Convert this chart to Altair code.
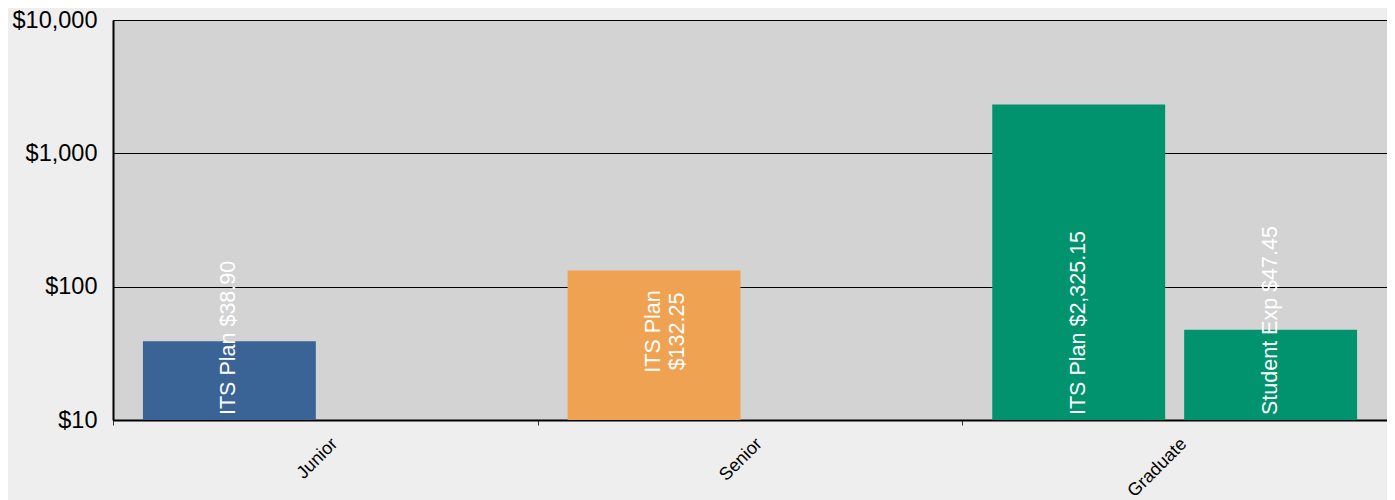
import altair as alt
import pandas as pd

# ---- data ----
categories = ["Junior", "Senior", "Graduate"]
bar_category = ["Junior", "Senior", "Graduate", "Graduate"]
bar_series = ["ITS Plan", "ITS Plan", "ITS Plan", "Student Exp"]
bar_values = [38.90, 132.25, 2325.15, 47.45]
series_order = ["ITS Plan", "Student Exp"]
category_colors = ["#3a6496", "#efa251", "#00936e"]
y_ticks = [10, 100, 1000, 10000]
title_text = "Yearly Expenses"

labels = []
for c, s, v in zip(bar_category, bar_series, bar_values):
    if c == "Senior":
        labels.append(f"{s}\n${v:,.2f}")
    else:
        labels.append(f"{s} ${v:,.2f}")

df = pd.DataFrame({
    "category": bar_category,
    "series": bar_series,
    "value": bar_values,
    "label": labels,
})

FONT = "Liberation Sans"

x_enc = alt.X(
    "category:N",
    sort=categories,
    scale=alt.Scale(paddingInner=0, paddingOuter=0),
    axis=alt.Axis(
        title=None,
        labelAngle=-45,
        labelAlign="right",
        labelBaseline="middle",
        labelFontSize=18,
        labelFont=FONT,
        labelColor="black",
        labelPadding=16,
        labelOffset=9,
        tickBand="extent",
        tickColor="#333333",
        tickSize=5,
        domainColor="black",
        domainWidth=2,
        grid=False,
    ),
)
xoff_enc = alt.XOffset(
    "series:N",
    sort=series_order,
    scale=alt.Scale(domain=series_order, paddingInner=0.099, paddingOuter=0.156),
)
y_scale = alt.Scale(type="log", domain=[10, 10000], nice=False)

base = alt.Chart(df)

bars = base.mark_bar().encode(
    x=x_enc,
    xOffset=xoff_enc,
    y=alt.Y(
        "value:Q",
        scale=y_scale,
        axis=alt.Axis(
            values=y_ticks,
            format="$,.0f",
            title=None,
            labelFontSize=23.5,
            labelFont=FONT,
            labelColor="black",
            labelPadding=16,
            ticks=False,
            grid=True,
            gridColor="black",
            gridWidth=1,
            gridOpacity=1,
            domainColor="black",
            domainWidth=2,
        ),
    ),
    y2=alt.datum(10),
    color=alt.Color(
        "category:N",
        scale=alt.Scale(domain=categories, range=category_colors),
        legend=None,
    ),
)

text_bottom = base.transform_filter(alt.datum.category != "Senior").mark_text(
    angle=270, align="left", baseline="middle", dx=5,
    fontSize=21.5, font=FONT, color="white",
).encode(
    x=alt.X("category:N", sort=categories),
    xOffset=alt.XOffset("series:N", sort=series_order),
    y=alt.datum(10),
    text="label:N",
)

text_mid = base.transform_filter(alt.datum.category == "Senior").mark_text(
    angle=270, align="center", baseline="middle", dx=-61,
    fontSize=21.5, font=FONT, color="white", lineBreak="\n", lineHeight=24,
).encode(
    x=alt.X("category:N", sort=categories),
    xOffset=alt.XOffset("series:N", sort=series_order),
    y=alt.Y("value:Q", scale=y_scale),
    text="label:N",
)

chart = alt.layer(bars, text_bottom, text_mid).properties(
    width=1274,
    height=400,
    title=alt.Title(
        title_text,
        fontSize=24,
        font=FONT,
        fontWeight="bold",
        color="#5a7ab0",
        offset=7,
        dx=-50,
        anchor="middle",
    ),
    padding={"left": 105, "top": 12, "right": 0, "bottom": 80},
    autosize=alt.AutoSizeParams(type="none"),
).configure(
    background="#eeeeee",
    font=FONT,
).configure_view(
    fill="#d3d3d3",
    stroke="#555555",
    strokeWidth=1,
)

chart.save("out.html", embed_options={"renderer": "svg", "actions": False})
